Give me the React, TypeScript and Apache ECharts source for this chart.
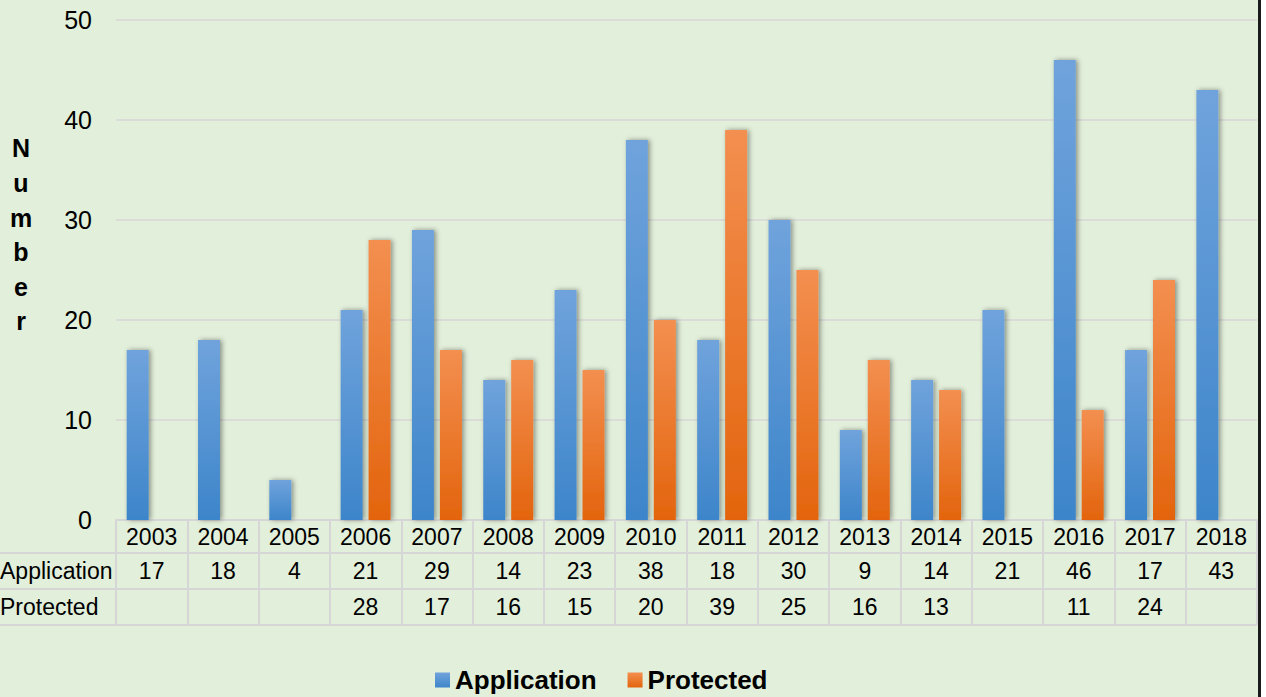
import React, { useEffect, useRef } from "react";
import * as echarts from "echarts";

const years = ["2003", "2004", "2005", "2006", "2007", "2008", "2009", "2010", "2011", "2012", "2013", "2014", "2015", "2016", "2017", "2018"];
const application: (number | null)[] = [17, 18, 4, 21, 29, 14, 23, 38, 18, 30, 9, 14, 21, 46, 17, 43];
const protectedVals: (number | null)[] = [null, null, null, 28, 17, 16, 15, 20, 39, 25, 16, 13, null, 11, 24, null];
const seriesNames = ["Application", "Protected"];
const yTicks = { min: 0, max: 50, interval: 10 };

const FONT = "'Liberation Sans', Arial, sans-serif";
const GRID_L = 116;
const GRID_R = 1257;
const GRID_T = 20;
const GRID_B = 520;
const ROW_H = [33, 36, 36];
const LINE = "#D6D6D6";
const TABLE_FS = 23;

export default function App() {
  const ref = useRef<HTMLDivElement>(null);
  useEffect(() => {
    if (!ref.current) return;
    const chart = echarts.init(ref.current, undefined, { renderer: "svg" });
    const y1 = GRID_B + ROW_H[0];
    const y2 = y1 + ROW_H[1];
    const y3 = y2 + ROW_H[2];
    const blue = new echarts.graphic.LinearGradient(0, 0, 0, 1, [
      { offset: 0, color: "#70A3DC" },
      { offset: 1, color: "#3D85CA" },
    ]);
    const orange = new echarts.graphic.LinearGradient(0, 0, 0, 1, [
      { offset: 0, color: "#F38F50" },
      { offset: 1, color: "#E3640D" },
    ]);
    const tableAxis = (vals: (number | null)[], margin: number) => ({
      type: "category",
      data: years,
      position: "bottom",
      axisLine: { show: false },
      axisTick: { show: false },
      splitLine: { show: false },
      axisLabel: {
        interval: 0,
        margin,
        verticalAlign: "middle",
        fontSize: TABLE_FS,
        color: "#000",
        fontFamily: FONT,
        formatter: (_v: string, i: number) => (vals[i] == null ? "" : String(vals[i])),
      },
    });
    chart.setOption({
      animation: false,
      backgroundColor: "#E2EFDA",
      grid: { left: GRID_L, right: 1266 - GRID_R, top: GRID_T, bottom: 697 - GRID_B, containLabel: false },
      xAxis: [
        {
          type: "category",
          data: years,
          position: "bottom",
          axisLine: { show: true, lineStyle: { color: LINE, width: 2 } },
          axisTick: { show: true, length: y3 - GRID_B, lineStyle: { color: LINE, width: 2 } },
          axisLabel: {
            interval: 0,
            margin: ROW_H[0] / 2,
            verticalAlign: "middle",
            fontSize: TABLE_FS,
            color: "#000",
            fontFamily: FONT,
          },
        },
        tableAxis(application, ROW_H[0] + ROW_H[1] / 2),
        tableAxis(protectedVals, ROW_H[0] + ROW_H[1] + ROW_H[2] / 2),
      ],
      yAxis: {
        type: "value",
        min: yTicks.min,
        max: yTicks.max,
        interval: yTicks.interval,
        axisLine: { show: false },
        axisTick: { show: false },
        axisLabel: { fontSize: 25, color: "#000", margin: 24, fontFamily: FONT },
        splitLine: { lineStyle: { color: LINE, width: 1.5 } },
      },
      legend: {
        data: seriesNames,
        left: 430,
        top: 662,
        itemWidth: 15,
        itemHeight: 15,
        itemGap: 31,
        icon: "rect",
        textStyle: { fontSize: 26, fontWeight: "bold", color: "#000", fontFamily: FONT },
      },
      series: [
        {
          name: seriesNames[0],
          type: "bar",
          data: application,
          barWidth: 22,
          barGap: "27%",
          itemStyle: { color: blue, shadowBlur: 5, shadowColor: "rgba(0,0,0,0.4)", shadowOffsetX: 2 },
        },
        {
          name: seriesNames[1],
          type: "bar",
          data: protectedVals,
          barWidth: 22,
          barGap: "27%",
          itemStyle: { color: orange, shadowBlur: 5, shadowColor: "rgba(0,0,0,0.4)", shadowOffsetX: 2 },
        },
      ],
      graphic: [
        { type: "line", shape: { x1: -10, y1: y1, x2: GRID_R, y2: y1 }, style: { stroke: LINE, lineWidth: 2 } },
        { type: "line", shape: { x1: -10, y1: y2, x2: GRID_R, y2: y2 }, style: { stroke: LINE, lineWidth: 2 } },
        { type: "line", shape: { x1: -10, y1: y3, x2: GRID_R, y2: y3 }, style: { stroke: LINE, lineWidth: 2 } },
        {
          type: "text",
          x: 0,
          y: (y1 + y2) / 2,
          style: { text: seriesNames[0], fontSize: TABLE_FS, fontFamily: FONT, fill: "#000", verticalAlign: "middle", align: "left" },
        },
        {
          type: "text",
          x: 0,
          y: (y2 + y3) / 2,
          style: { text: seriesNames[1], fontSize: TABLE_FS, fontFamily: FONT, fill: "#000", verticalAlign: "middle", align: "left" },
        },
        {
          type: "text",
          x: 21,
          y: 131,
          style: {
            text: "N\nu\nm\nb\ne\nr",
            fontSize: 25,
            fontWeight: "bold",
            fontFamily: FONT,
            fill: "#000",
            align: "center",
            verticalAlign: "top",
            lineHeight: 34.6,
          },
        },
        { type: "rect", shape: { x: 1258, y: 0, width: 3, height: 697 }, style: { fill: "#1A1A1A" } },
        { type: "rect", shape: { x: 1261, y: 0, width: 6, height: 697 }, style: { fill: "#FFFFFF" } },
      ],
    });
    return () => chart.dispose();
  }, []);
  return <div ref={ref} style={{ position: "fixed", left: 0, top: 0, width: 1266, height: 697 }} />;
}
